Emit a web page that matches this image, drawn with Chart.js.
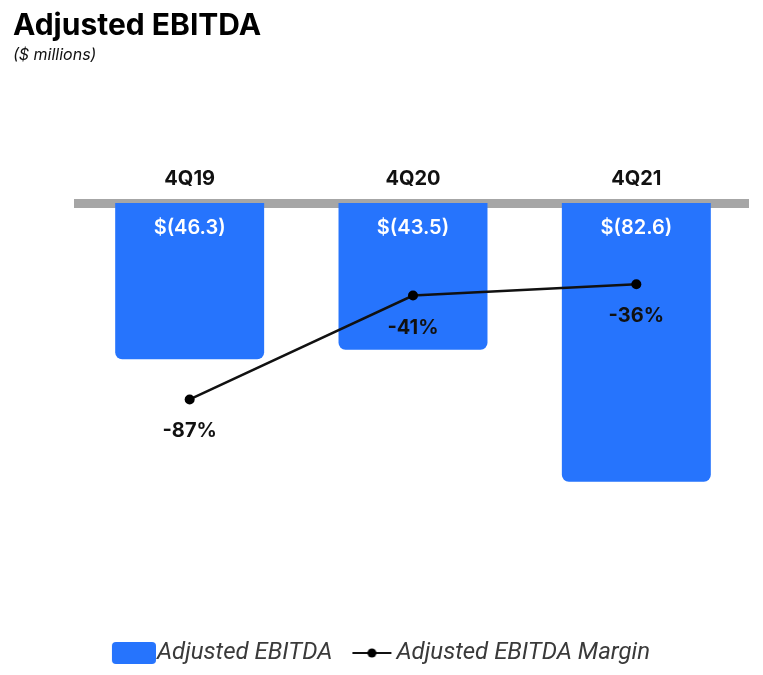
<!DOCTYPE html>
<html>
<head>
<meta charset="utf-8">
<script src="https://cdn.jsdelivr.net/npm/chart.js@4/dist/chart.umd.min.js"></script>
<style>
  html, body { margin: 0; padding: 0; background: #fff; }
</style>
</head>
<body>
<canvas id="chart" width="763" height="675"></canvas>
<script>
const quarters = ["4Q19", "4Q20", "4Q21"];
const ebitda = [-46.3, -43.5, -82.6];
const ebitdaLabels = ["$(46.3)", "$(43.5)", "$(82.6)"];
const margin = [-87, -41, -36];
const marginLabels = ["-87%", "-41%", "-36%"];

const blue = "#2674fd";
const ink = "#111111";

// legend markers, drawn off-centre so the text sits right next to them
function swatchMark() {
  const c = document.createElement("canvas");
  c.width = 56; c.height = 22;
  const g = c.getContext("2d");
  g.fillStyle = blue;
  g.beginPath();
  g.roundRect(12, 0, 44, 22, 4);
  g.fill();
  return c;
}
function lineMark() {
  const c = document.createElement("canvas");
  c.width = 56; c.height = 12;
  const g = c.getContext("2d");
  g.strokeStyle = ink;
  g.lineWidth = 2;
  g.beginPath();
  g.moveTo(13, 6);
  g.lineTo(52, 6);
  g.stroke();
  g.fillStyle = "#000";
  g.beginPath();
  g.arc(32.5, 6, 4.5, 0, Math.PI * 2);
  g.fill();
  return c;
}
const legendMarks = [swatchMark(), lineMark()];

const valueLabels = {
  id: "valueLabels",
  afterDatasetsDraw(chart) {
    const ctx = chart.ctx;
    ctx.save();
    ctx.textAlign = "center";
    ctx.textBaseline = "middle";
    ctx.font = "600 20px Inter";
    ctx.fillStyle = "#ffffff";
    chart.getDatasetMeta(1).data.forEach((bar, i) => {
      ctx.fillText(ebitdaLabels[i], bar.x, chart.chartArea.top + 25);
    });
    ctx.font = "bold 20px Inter";
    ctx.fillStyle = ink;
    chart.getDatasetMeta(0).data.forEach((pt, i) => {
      ctx.fillText(marginLabels[i], pt.x, pt.y + 32);
    });
    ctx.restore();
  }
};

new Chart(document.getElementById("chart"), {
  data: {
    labels: quarters,
    datasets: [
      {
        type: "line",
        label: "Adjusted EBITDA Margin",
        data: margin,
        yAxisID: "y1",
        order: 0,
        borderColor: ink,
        borderWidth: 2.5,
        pointRadius: 5,
        pointBackgroundColor: "#000",
        pointBorderWidth: 0,
        tension: 0
      },
      {
        type: "bar",
        label: "Adjusted EBITDA",
        data: ebitda,
        yAxisID: "y",
        order: 1,
        backgroundColor: blue,
        borderRadius: 7,
        categoryPercentage: 1,
        barPercentage: 0.667
      }
    ]
  },
  options: {
    responsive: false,
    animation: false,
    layout: { padding: { left: 13, right: 15, top: 0, bottom: 0 } },
    plugins: {
      title: {
        display: true,
        text: "Adjusted EBITDA",
        align: "start",
        color: "#000",
        font: { family: "Inter", size: 30, weight: "bold" },
        padding: { top: 8, bottom: 0 }
      },
      subtitle: {
        display: true,
        text: "($ millions)",
        align: "start",
        color: ink,
        font: { family: "Inter", size: 16, style: "italic" },
        padding: { top: 2, bottom: 0 }
      },
      legend: {
        position: "bottom",
        reverse: true,
        labels: {
          usePointStyle: true,
          pointStyleWidth: 34,
          padding: 18,
          color: "#3a3a3a",
          font: { family: "Roboto", size: 24, style: "italic" },
          generateLabels(chart) {
            const items = Chart.defaults.plugins.legend.labels.generateLabels(chart);
            items.forEach(it => {
              it.pointStyle = it.text === "Adjusted EBITDA" ? legendMarks[0] : legendMarks[1];
            });
            return items;
          }
        }
      },
      tooltip: { enabled: false }
    },
    scales: {
      x: {
        position: "top",
        z: 1,
        grid: { display: false, drawTicks: false },
        border: { display: true, color: "#a6a6a6", width: 9 },
        ticks: {
          color: ink,
          padding: 12,
          font: { family: "Inter", size: 20, weight: "bold" }
        },
        afterFit(scale) { scale.height = 137.8; }
      },
      y: {
        min: -124.4,
        max: 0,
        ticks: { display: false },
        grid: { display: false },
        border: { display: false },
        afterFit(scale) { scale.width = 65; }
      },
      y1: {
        min: -186,
        max: 0,
        display: false,
        position: "right"
      }
    }
  },
  plugins: [valueLabels]
});
</script>
</body>
</html>
